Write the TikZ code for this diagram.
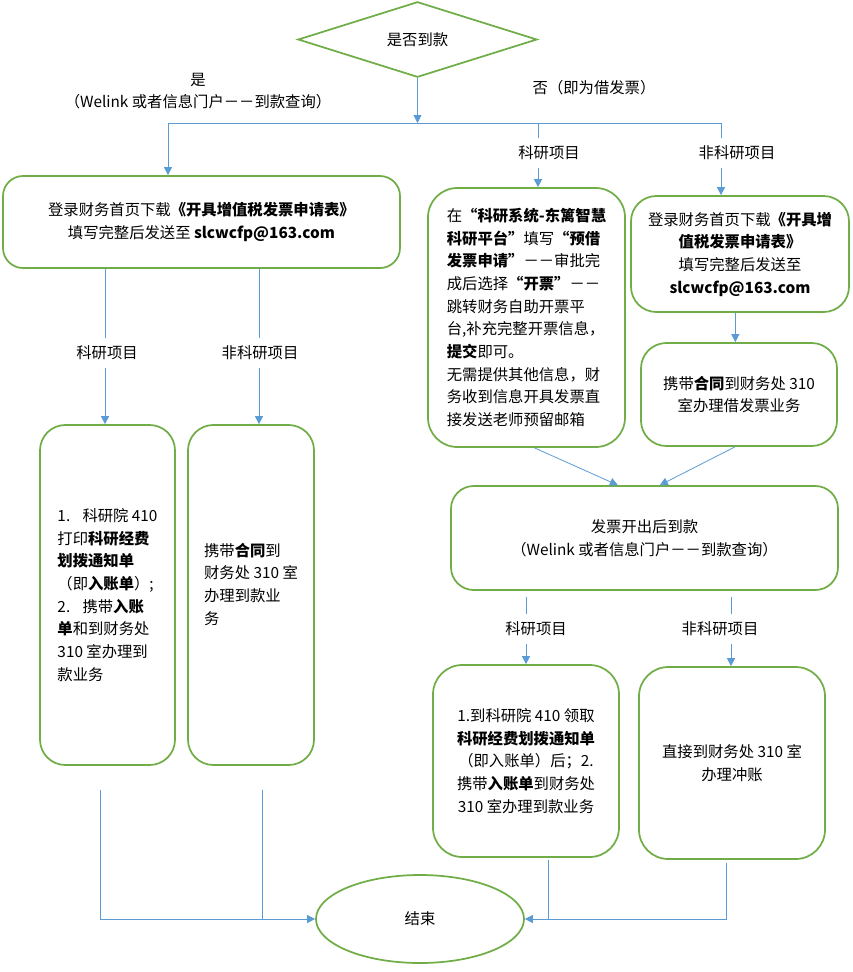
\documentclass[tikz,border=0pt]{standalone}
\usepackage{fontspec}
\setmainfont{Noto Sans CJK SC}
\usetikzlibrary{shapes.geometric,arrows.meta}
\definecolor{boxgreen}{HTML}{70AD47}
\definecolor{lineblue}{HTML}{5B9BD5}
\tikzset{every node/.style={font=\fontsize{11.5pt}{17pt}\selectfont},
	flowbox/.style={draw=boxgreen,line width=1.3pt,rounded corners=#1,inner sep=0pt,align=center},
	flowbox/.default=15pt,
	leftbox/.style={flowbox=#1,align=left},
	leftbox/.default=19pt,
	branch/.style={inner xsep=2pt,inner ysep=6pt},
	line/.style={draw=lineblue,line width=0.6pt},
	arr/.style={line,-{Triangle[length=6pt,width=6pt]}}}

\begin{document}
\begin{tikzpicture}[x=0.75pt,y=-0.75pt]
	\useasboundingbox (0,0) rectangle (853,972);

	\node[shape=diamond,draw=boxgreen,line width=1.3pt,inner sep=0pt,minimum width=179.25pt,minimum height=56.25pt] (dia) at (417.5,39.5) {是否到款};
	\node[align=center] (yes) at (198,91) {是\\（Welink 或者信息门户－－到款查询）};
	\node (no) at (594,88) {否（即为借发票）};

	\node[flowbox,minimum width=297.75pt,minimum height=69pt] (A) at (201.5,222) {登录财务首页下载\textbf{《开具增值税发票申请表》}\\填写完整后发送至 \textbf{slcwcfp@163.com}};
	\node[leftbox=22pt,minimum width=147.75pt,minimum height=194.25pt] (D) at (526.5,317.5) {在\textbf{“科研系统-东篱智慧}\\\textbf{科研平台”}填写\textbf{“预借}\\\textbf{发票申请”}－－审批完\\成后选择\textbf{“开票”}－－\\跳转财务自助开票平\\台,补充完整开票信息，\\\textbf{提交}即可。\\无需提供其他信息，财\\务收到信息开具发票直\\接发送老师预留邮箱};
	\node[flowbox=19pt,minimum width=163.5pt,minimum height=87pt] (E) at (740,254) {登录财务首页下载\textbf{《开具增}\\\textbf{值税发票申请表》}\\填写完整后发送至\\\textbf{slcwcfp@163.com}};
	\node[flowbox=19pt,minimum width=147pt,minimum height=77.25pt] (F) at (739,394.5) {携带\textbf{合同}到财务处 310\\室办理借发票业务};

	\node[leftbox,minimum width=101.25pt,minimum height=255pt] (B) at (107.5,595) {1.\hspace{0.8em}科研院 410\\打印\textbf{科研经费}\\\textbf{划拨通知单}\\（即\textbf{入账单}）;\\2.\hspace{0.8em}携带\textbf{入账}\\\textbf{单}和到财务处\\310 室办理到\\款业务};
	\node[leftbox,minimum width=94.5pt,minimum height=255pt] (C) at (251,595) {携带\textbf{合同}到\\财务处 310 室\\办理到款业\\务\\\mbox{}};

	\node[flowbox=17pt,minimum width=290.25pt,minimum height=78pt] (G) at (644.5,538) {发票开出后到款\\（Welink 或者信息门户－－到款查询）};
	\node[flowbox=22pt,minimum width=139.5pt,minimum height=144pt] (H) at (526,761) {1.到科研院 410 领取\\\textbf{科研经费划拨通知单}\\（即入账单）后；2.\\携带\textbf{入账单}到财务处\\310 室办理到款业务};
	\node[flowbox=22pt,minimum width=139.5pt,minimum height=144pt] (I) at (732,763) {直接到财务处 310 室\\办理冲账};

	\node[shape=ellipse,draw=boxgreen,line width=1.3pt,inner sep=0pt,minimum width=156pt,minimum height=66pt] (end) at (420,919) {结束};

	\node[branch] (lblD) at (549,153) {科研项目};
	\node[branch] (lblE) at (737,153) {非科研项目};
	\node[branch] (lblB) at (107,353) {科研项目};
	\node[branch] (lblC) at (260,353) {非科研项目};
	\node[branch] (lblH) at (536,629) {科研项目};
	\node[branch] (lblI) at (720,629) {非科研项目};

	\coordinate (bar) at (417.5,123);
	\coordinate (barL) at (168,123);
	\coordinate (barR) at (721,123);
	\coordinate (brD) at (538,123);
	\coordinate (brB) at (105,268);
	\coordinate (brC) at (259,268);
	\coordinate (brH) at (526,597);
	\coordinate (brI) at (731,597);
	\coordinate (eB) at (100,790);
	\coordinate (eC) at (262,790);
	\coordinate (eH) at (548,860);
	\coordinate (eI) at (726,863);

	\draw[arr] (dia.south) -- (bar);
	\draw[line] (barL) -- (barR);
	\draw[arr] (barL) -- (barL |- A.north);
	\draw[line] (brD) -- (brD |- lblD.north);
	\draw[arr] (brD |- lblD.south) -- (brD |- D.north);
	\draw[line] (barR) -- (barR |- lblE.north);
	\draw[arr] (barR |- lblE.south) -- (barR |- E.north);
	\draw[arr] ([xshift=-3.5pt]E.south) -- ([xshift=-3.5pt]E.south |- F.north);
	\draw[line] (brB) -- (brB |- lblB.north);
	\draw[arr] (brB |- lblB.south) -- (brB |- B.north);
	\draw[line] (brC) -- (brC |- lblC.north);
	\draw[arr] (brC |- lblC.south) -- (brC |- C.north);
	\draw[arr] ([xshift=6pt]D.south) -- ([xshift=-20pt]G.north);
	\draw[arr] ([xshift=-3pt]F.south) -- ([xshift=11.5pt]G.north);
	\draw[line] (brH) -- (brH |- lblH.north);
	\draw[arr] (brH |- lblH.south) -- (brH |- H.north);
	\draw[line] (brI) -- (brI |- lblI.north);
	\draw[arr] (brI |- lblI.south) -- (brI |- I.north);
	\draw[arr] (eB) |- (end.west);
	\draw[line] (eC) -- (eC |- end.west);
	\draw[arr] (eI) |- (end.east);
	\draw[line] (eH) -- (eH |- end.east);
\end{tikzpicture}
\end{document}
